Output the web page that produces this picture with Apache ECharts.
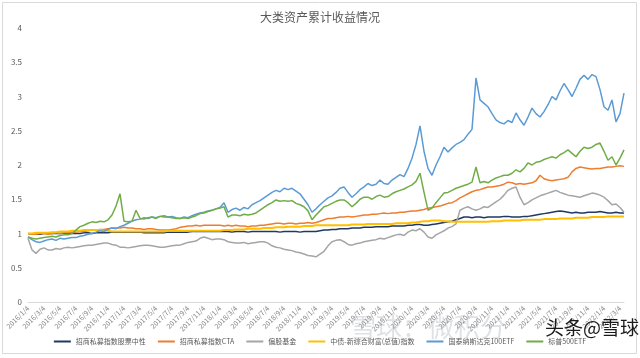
<!DOCTYPE html>
<html><head><meta charset="utf-8">
<script src="https://cdn.jsdelivr.net/npm/echarts@6/dist/echarts.min.js"></script>
<style>html,body{margin:0;padding:0;background:#fff}#c{width:640px;height:358px}</style>
</head><body><div id="c"></div>
<script>
// Series names
const seriesNames = ['招商私募指数股票中性','招商私募指数CTA','偏股基金','中债-新综合财富(总值)指数','国泰纳斯达克100ETF','标普500ETF'];
// Y tick values
const yTicks = [0,0.5,1,1.5,2,2.5,3,3.5,4];
// Categories: semi-monthly dates (4th and 19th) from 2016/1/4 to 2022/3/19
const categories = [];
for (let y = 2016; y <= 2022; y++) {
  for (let m = 1; m <= 12; m++) {
    if (y === 2022 && m > 3) break;
    categories.push(y + '/' + m + '/4');
    categories.push(y + '/' + m + '/19');
  }
}
const neutral = [
1.00,0.99,0.99,0.99,1.00,1.00,1.00,1.00,1.00,1.00,1.00,1.00,
1.00,1.00,1.01,1.01,1.00,1.01,1.01,1.01,1.01,1.02,1.02,1.02,
1.02,1.02,1.02,1.02,1.02,1.01,1.01,1.01,1.01,1.01,1.01,1.02,
1.02,1.02,1.02,1.02,1.02,1.03,1.03,1.03,1.03,1.03,1.03,1.03,
1.03,1.03,1.03,1.02,1.03,1.03,1.03,1.02,1.03,1.03,1.03,1.03,
1.03,1.03,1.03,1.02,1.03,1.03,1.03,1.03,1.02,1.03,1.03,1.03,
1.03,1.04,1.05,1.05,1.06,1.06,1.07,1.07,1.07,1.08,1.08,1.08,
1.09,1.09,1.09,1.10,1.10,1.10,1.10,1.11,1.11,1.11,1.11,1.12,
1.12,1.13,1.13,1.12,1.12,1.13,1.14,1.15,1.16,1.17,1.18,1.20,
1.22,1.24,1.24,1.23,1.24,1.24,1.23,1.24,1.24,1.24,1.24,1.25,
1.25,1.24,1.24,1.24,1.25,1.25,1.26,1.27,1.28,1.29,1.30,1.31,
1.32,1.33,1.32,1.31,1.30,1.31,1.30,1.30,1.31,1.31,1.31,1.32,
1.31,1.30,1.30,1.31,1.30,1.30];
const cta = [
1.00,0.99,0.99,1.00,1.00,0.99,1.00,1.01,1.00,1.01,1.01,1.02,
1.02,1.03,1.03,1.04,1.05,1.05,1.06,1.06,1.07,1.08,1.08,1.08,
1.09,1.08,1.08,1.07,1.07,1.06,1.07,1.07,1.06,1.05,1.05,1.05,
1.06,1.07,1.09,1.10,1.11,1.11,1.12,1.11,1.12,1.12,1.12,1.12,
1.12,1.11,1.12,1.11,1.12,1.11,1.11,1.10,1.11,1.11,1.12,1.12,
1.13,1.14,1.15,1.15,1.14,1.15,1.15,1.14,1.15,1.15,1.16,1.15,
1.16,1.18,1.20,1.22,1.22,1.23,1.24,1.24,1.25,1.24,1.25,1.26,
1.27,1.27,1.28,1.28,1.29,1.30,1.29,1.30,1.30,1.31,1.31,1.32,
1.33,1.33,1.34,1.35,1.37,1.38,1.39,1.40,1.42,1.44,1.45,1.48,
1.52,1.55,1.58,1.61,1.63,1.64,1.66,1.68,1.68,1.69,1.70,1.72,
1.75,1.74,1.72,1.73,1.72,1.73,1.74,1.77,1.85,1.80,1.78,1.77,
1.78,1.79,1.80,1.82,1.90,1.95,1.97,1.96,1.95,1.94,1.95,1.95,
1.96,1.97,1.97,1.98,1.99,1.98];
const equityFund = [
0.93,0.76,0.71,0.77,0.79,0.76,0.76,0.78,0.77,0.79,0.80,0.79,
0.80,0.81,0.82,0.83,0.83,0.84,0.85,0.86,0.86,0.84,0.83,0.80,
0.80,0.79,0.80,0.81,0.82,0.83,0.83,0.82,0.81,0.80,0.80,0.81,
0.82,0.83,0.83,0.85,0.87,0.88,0.89,0.93,0.95,0.93,0.91,0.92,
0.92,0.91,0.88,0.87,0.86,0.86,0.87,0.85,0.86,0.87,0.88,0.88,
0.86,0.82,0.80,0.79,0.77,0.76,0.75,0.73,0.72,0.70,0.68,0.67,
0.66,0.70,0.74,0.82,0.88,0.90,0.91,0.88,0.84,0.83,0.85,0.86,
0.88,0.89,0.90,0.91,0.93,0.92,0.94,0.96,0.98,0.99,0.97,1.02,
1.05,1.04,1.07,1.02,0.95,0.93,0.98,1.01,1.04,1.08,1.10,1.14,
1.34,1.37,1.39,1.36,1.34,1.36,1.39,1.38,1.42,1.46,1.50,1.56,
1.63,1.66,1.68,1.53,1.42,1.45,1.49,1.52,1.55,1.57,1.59,1.61,
1.63,1.60,1.58,1.56,1.55,1.54,1.53,1.55,1.57,1.59,1.58,1.56,
1.53,1.48,1.42,1.43,1.38,1.31];
const bond = [
1.00,1.00,1.01,1.01,1.01,1.01,1.02,1.02,1.03,1.03,1.03,1.04,
1.04,1.04,1.05,1.05,1.05,1.05,1.05,1.04,1.04,1.03,1.03,1.03,
1.03,1.03,1.03,1.03,1.03,1.03,1.03,1.03,1.03,1.03,1.03,1.04,
1.04,1.04,1.04,1.04,1.04,1.04,1.04,1.04,1.04,1.04,1.04,1.04,
1.04,1.05,1.05,1.05,1.06,1.06,1.06,1.07,1.07,1.07,1.07,1.08,
1.08,1.08,1.09,1.09,1.09,1.10,1.10,1.10,1.10,1.11,1.11,1.11,
1.12,1.12,1.12,1.12,1.12,1.12,1.12,1.12,1.12,1.13,1.13,1.13,
1.13,1.14,1.14,1.14,1.14,1.14,1.14,1.14,1.15,1.15,1.15,1.15,
1.16,1.16,1.17,1.18,1.18,1.19,1.19,1.19,1.18,1.18,1.17,1.17,
1.17,1.17,1.17,1.17,1.17,1.17,1.17,1.17,1.18,1.18,1.18,1.19,
1.19,1.19,1.19,1.19,1.20,1.20,1.20,1.20,1.20,1.21,1.21,1.21,
1.21,1.22,1.22,1.22,1.22,1.23,1.23,1.23,1.23,1.24,1.24,1.24,
1.24,1.25,1.25,1.25,1.25,1.25];
const nasdaq = [
0.95,0.91,0.88,0.87,0.89,0.91,0.92,0.90,0.93,0.92,0.93,0.94,
0.94,0.96,0.97,0.99,1.00,1.02,1.04,1.03,1.06,1.08,1.07,1.10,
1.12,1.15,1.18,1.20,1.21,1.23,1.22,1.24,1.23,1.25,1.26,1.24,
1.25,1.23,1.22,1.24,1.23,1.26,1.28,1.30,1.31,1.33,1.34,1.36,
1.38,1.45,1.31,1.35,1.37,1.34,1.38,1.36,1.42,1.45,1.48,1.52,
1.56,1.60,1.63,1.61,1.66,1.64,1.66,1.62,1.58,1.50,1.42,1.31,
1.36,1.42,1.47,1.52,1.55,1.60,1.66,1.68,1.60,1.53,1.58,1.64,
1.68,1.73,1.70,1.72,1.78,1.73,1.72,1.78,1.82,1.86,1.83,1.95,
2.10,2.30,2.57,2.20,1.95,1.85,2.00,2.12,2.26,2.19,2.25,2.30,
2.33,2.37,2.45,2.52,3.27,2.95,2.90,2.85,2.75,2.66,2.62,2.60,
2.65,2.62,2.76,2.66,2.58,2.70,2.83,2.75,2.70,2.78,2.88,3.00,
2.95,3.08,3.19,3.10,3.00,3.12,3.25,3.31,3.25,3.32,3.29,3.10,
2.85,2.80,2.95,2.63,2.75,3.05];
const sp500 = [
0.95,0.93,0.92,0.93,0.94,0.95,0.96,0.95,0.97,0.98,0.98,1.00,
1.05,1.10,1.12,1.15,1.17,1.16,1.18,1.17,1.20,1.27,1.40,1.58,
1.18,1.17,1.18,1.34,1.22,1.21,1.23,1.24,1.22,1.25,1.24,1.24,
1.23,1.22,1.22,1.23,1.22,1.24,1.26,1.29,1.30,1.32,1.34,1.36,
1.37,1.39,1.24,1.27,1.27,1.26,1.28,1.27,1.28,1.30,1.34,1.38,
1.42,1.45,1.49,1.47,1.48,1.47,1.48,1.44,1.42,1.39,1.33,1.20,
1.27,1.33,1.39,1.41,1.44,1.47,1.49,1.49,1.45,1.39,1.44,1.50,
1.53,1.53,1.50,1.54,1.56,1.53,1.54,1.58,1.61,1.63,1.65,1.68,
1.71,1.76,1.88,1.60,1.34,1.37,1.45,1.52,1.59,1.60,1.63,1.66,
1.68,1.70,1.72,1.75,1.97,1.74,1.76,1.74,1.78,1.81,1.83,1.85,
1.85,1.88,1.93,1.90,1.95,2.03,2.00,2.04,2.05,2.08,2.10,2.12,
2.10,2.15,2.18,2.22,2.17,2.12,2.20,2.26,2.24,2.26,2.30,2.32,
2.20,2.07,2.12,2.00,2.10,2.22];
const seriesData = [neutral, cta, equityFund, bond, nasdaq, sp500];
const colors = ['#203864','#ED7D31','#A5A5A5','#FFC000','#5B9BD5','#70AD47'];
const widths = [1.5,1.5,1.5,2,1.5,1.5];

const FONT = '"Noto Sans CJK SC", "Noto Sans", sans-serif';
const chart = echarts.init(document.getElementById('c'), null, {renderer:'canvas'});
chart.setOption({
  animation: false,
  color: colors,
  textStyle: {fontFamily: FONT},
  title: {text: '大类资产累计收益情况', left: 'center', top: 6,
    textStyle: {fontSize: 12, fontWeight: 'normal', color: '#595959', fontFamily: FONT}},
  grid: {left: 28, right: 16, top: 28, bottom: 56, containLabel: false},
  legend: {bottom: 8, left: 'center', itemWidth: 17, itemHeight: 2, itemGap: 12, icon: 'rect',
    textStyle: {fontSize: 7, color: '#595959', fontFamily: FONT},
    data: seriesNames},
  xAxis: {type: 'category', data: categories, boundaryGap: false,
    axisLine: {lineStyle: {color: '#D9D9D9'}}, axisTick: {show: false},
    axisLabel: {interval: 3, rotate: 45, fontSize: 7, color: '#7f7f7f', margin: 5, fontFamily: FONT}},
  yAxis: {type: 'value', min: yTicks[0], max: yTicks[yTicks.length-1], interval: 0.5,
    splitLine: {show: false}, axisLine: {show: false}, axisTick: {show: false},
    axisLabel: {fontSize: 8, color: '#595959', margin: 6, fontFamily: FONT}},
  series: seriesNames.map((n, k) => ({
    name: n, type: 'line', data: seriesData[k], showSymbol: false, symbol: 'none',
    lineStyle: {width: widths[k], color: colors[k]}, itemStyle: {color: colors[k]}
  })),
  graphic: [
    {type: 'rect', shape: {x: 2.5, y: 2.5, width: 634, height: 351}, style: {fill: 'none', stroke: '#D9D9D9', lineWidth: 1}, silent: true},
    {type: 'text', left: 350, top: 314, style: {text: '雪球：微积分', fontSize: 26, fill: 'rgba(160,170,180,0.35)', fontFamily: FONT}, silent: true, z: 100},
    {type: 'text', left: 545, top: 318, style: {text: '头条@雪球', fontSize: 19, fill: '#1a1a1a', fontFamily: FONT}, silent: true, z: 101}
  ]
});
</script></body></html>
